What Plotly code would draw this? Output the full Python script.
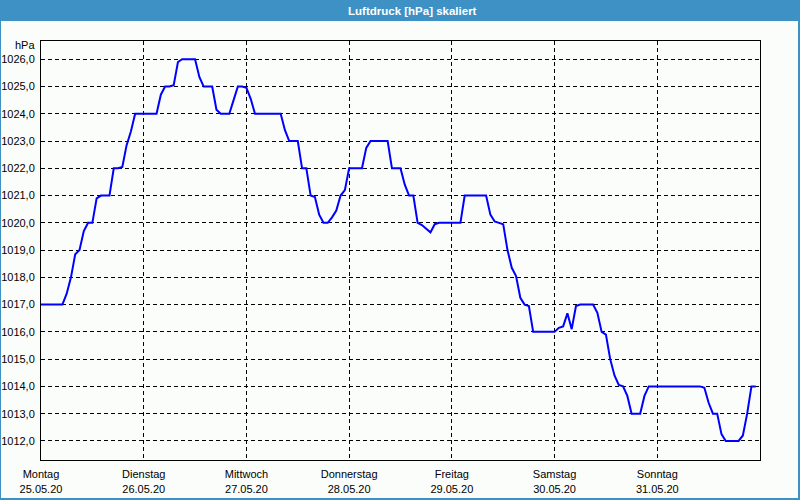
import plotly.graph_objects as go

# ---- data ----
hours = list(range(168))  # hours since Montag 25.05.20 00:00
pressure = [
    1017.0, 1017.0, 1017.0, 1017.0, 1017.0, 1017.0, 1017.4, 1018.0,
    1018.85, 1019.0, 1019.7, 1020.0, 1020.0, 1020.9, 1021.0, 1021.0,
    1021.0, 1022.0, 1022.0, 1022.05, 1022.85, 1023.35, 1024.0, 1024.0,
    1024.0, 1024.0, 1024.0, 1024.0, 1024.7, 1025.0, 1025.0, 1025.05,
    1025.9, 1026.0, 1026.0, 1026.0, 1026.0, 1025.35, 1025.0, 1025.0,
    1025.0, 1024.15, 1024.0, 1024.0, 1024.0, 1024.5, 1025.0, 1025.0,
    1024.95, 1024.55, 1024.0, 1024.0, 1024.0, 1024.0, 1024.0, 1024.0,
    1024.0, 1023.4, 1023.0, 1023.0, 1023.0, 1022.0, 1022.0, 1021.0,
    1020.95, 1020.3, 1020.0, 1020.0, 1020.2, 1020.45, 1021.0, 1021.2,
    1022.0, 1022.0, 1022.0, 1022.0, 1022.75, 1023.0, 1023.0, 1023.0,
    1023.0, 1023.0, 1022.0, 1022.0, 1022.0, 1021.4, 1021.0, 1021.0,
    1020.0, 1019.92, 1019.8, 1019.65, 1019.95, 1020.0, 1020.0, 1020.0,
    1020.0, 1020.0, 1020.0, 1021.0, 1021.0, 1021.0, 1021.0, 1021.0,
    1021.0, 1020.3, 1020.05, 1020.0, 1019.95, 1019.0, 1018.35, 1018.05,
    1017.25, 1017.0, 1016.95, 1016.0, 1016.0, 1016.0, 1016.0, 1016.0,
    1016.0, 1016.15, 1016.2, 1016.68, 1016.1, 1016.95, 1017.0, 1017.0,
    1017.0, 1017.0, 1016.7, 1016.0, 1015.9, 1015.0, 1014.4, 1014.05,
    1014.0, 1013.65, 1013.0, 1013.0, 1013.0, 1013.65, 1014.0, 1014.0,
    1014.0, 1014.0, 1014.0, 1014.0, 1014.0, 1014.0, 1014.0, 1014.0,
    1014.0, 1014.0, 1014.0, 1013.95, 1013.4, 1013.0, 1013.0, 1012.25,
    1012.0, 1012.0, 1012.0, 1012.0, 1012.2, 1013.0, 1014.0, 1014.0,
]
day_hours = [0, 24, 48, 72, 96, 120, 144]
day_names = ["Montag", "Dienstag", "Mittwoch", "Donnerstag", "Freitag", "Samstag", "Sonntag"]
day_dates = ["25.05.20", "26.05.20", "27.05.20", "28.05.20", "29.05.20", "30.05.20", "31.05.20"]
y_ticks = list(range(1012, 1027))
y_ticktext = [f"{v},0" for v in y_ticks]
title_text = "Luftdruck [hPa] skaliert"
unit_text = "hPa"

# ---- layout geometry (pixels) ----
W, H = 800, 500
ML, MR, MT, MB = 41, 40, 41, 40
PW, PH = W - ML - MR, H - MT - MB

def px_x(p):
    return (p - ML) / PW

def px_y(p):
    return (H - MB - p) / PH

BLUE = "#3d91c4"
BG = "#fbfdfb"
FONT = "Liberation Sans"

fig = go.Figure()
fig.add_trace(go.Scatter(
    x=hours, y=pressure, mode="lines",
    line=dict(color="#0000ff", width=2),
    hoverinfo="skip", showlegend=False,
))

fig.update_layout(
    width=W, height=H,
    margin=dict(l=ML, r=MR, t=MT, b=MB, pad=0, autoexpand=False),
    paper_bgcolor=BLUE,
    plot_bgcolor=BG,
    font=dict(family=FONT, size=11, color="#000000"),
    showlegend=False,
    xaxis=dict(
        range=[0, 168],
        tickmode="array",
        tickvals=day_hours,
        ticktext=[f"{n}<br>{d}" for n, d in zip(day_names, day_dates)],
        showgrid=True, gridcolor="#000000", gridwidth=1, griddash="4px,3px",
        showline=True, linecolor="#000000", linewidth=1, mirror=True,
        ticks="", zeroline=False, fixedrange=True, automargin=False,
        ticklabelstandoff=4,
    ),
    yaxis=dict(
        range=[1011.30, 1026.67],
        tickmode="array",
        tickvals=y_ticks,
        ticktext=y_ticktext,
        showgrid=True, gridcolor="#000000", gridwidth=1, griddash="4px,3px",
        showline=True, linecolor="#000000", linewidth=1, mirror=True,
        ticks="", zeroline=False, fixedrange=True, automargin=False,
        ticklabelstandoff=3,
    ),
    shapes=[
        dict(type="rect", xref="paper", yref="paper", layer="below",
             x0=px_x(1), x1=px_x(798), y0=px_y(498), y1=px_y(21),
             fillcolor=BG, line=dict(width=0)),
    ],
    annotations=[
        dict(text=f"<b>{title_text}</b>", xref="paper", yref="paper",
             x=px_x(412), y=px_y(10.5), xanchor="center", yanchor="middle",
             showarrow=False, font=dict(family=FONT, size=11.5, color="#ffffff")),
        dict(text=unit_text, xref="paper", yref="paper",
             x=px_x(37), y=px_y(45), xanchor="right", yanchor="middle",
             showarrow=False, font=dict(family=FONT, size=11, color="#000000")),
    ],
)

fig.write_html("out.html")
